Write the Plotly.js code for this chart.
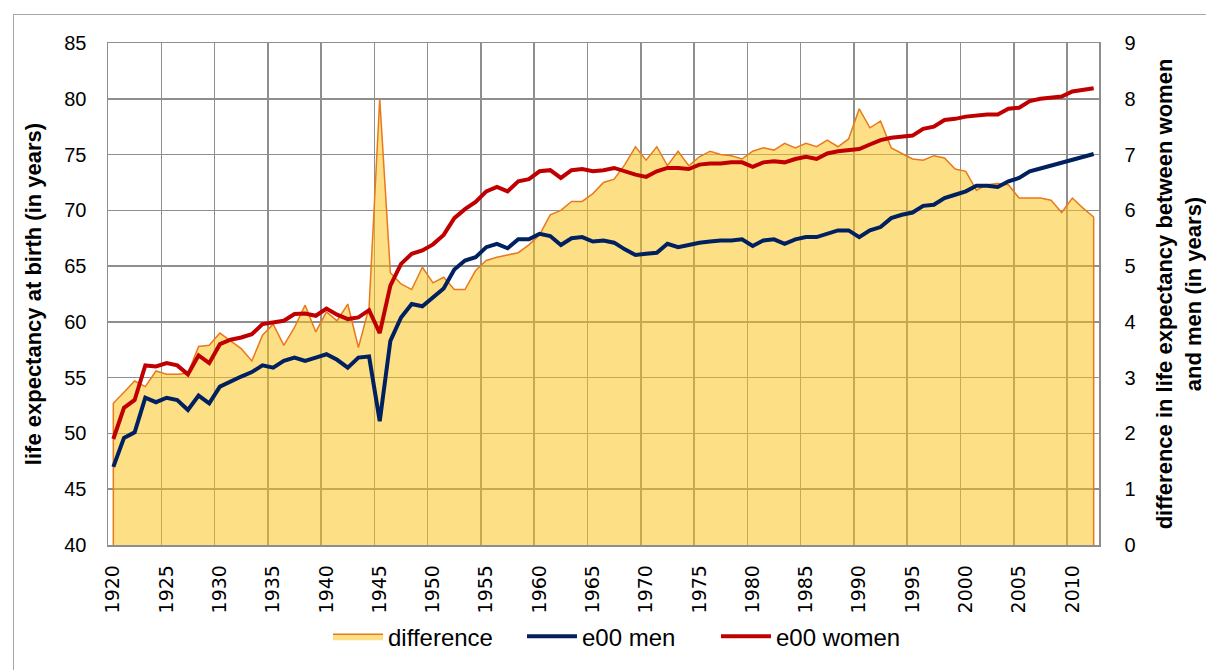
<!DOCTYPE html>
<html>
<head>
<meta charset="utf-8">
<script src="https://cdn.plot.ly/plotly-3.0.1.min.js"></script>
<style>
  html, body { margin: 0; padding: 0; background: #fff; overflow: hidden; }
  #chart { width: 1206px; height: 670px; }
  #frame { position: absolute; left: 13px; top: 14px; width: 1300px; height: 700px;
           border: 1px solid #a6a6a6; pointer-events: none; }
</style>
</head>
<body>
<div id="chart"></div>
<div id="frame"></div>
<script>
// ---- data ----
const years = [];
for (let y = 1920; y <= 2012; y++) years.push(y);

const e00Men = [
  47.0, 49.6, 50.1, 53.2, 52.8, 53.2, 53.0, 52.1, 53.4, 52.7,
  54.2, 54.7, 55.1, 55.5, 56.1, 55.9, 56.5, 56.8, 56.5, 56.8,
  57.1, 56.6, 55.9, 56.8, 56.9, 51.1, 58.3, 60.4, 61.6, 61.4,
  62.2, 63.0, 64.7, 65.5, 65.8, 66.7, 67.0, 66.6, 67.4, 67.4,
  67.9, 67.7, 66.9, 67.5, 67.6, 67.2, 67.3, 67.1, 66.5, 66.0,
  66.1, 66.2, 67.0, 66.7, 66.9, 67.1, 67.2, 67.3, 67.3, 67.4,
  66.8, 67.3, 67.4, 67.0, 67.4, 67.6, 67.6, 67.9, 68.2, 68.2,
  67.6, 68.2, 68.5, 69.3, 69.6, 69.8, 70.4, 70.5, 71.1, 71.4,
  71.7, 72.2, 72.2, 72.1, 72.6, 72.9, 73.5, 73.75, 74.0, 74.3,
  74.5, 74.8, 75.05
];

const e00Women = [
  49.5, 52.3, 53.0, 56.1, 56.0, 56.3, 56.1, 55.3, 57.0, 56.3,
  58.0, 58.4, 58.6, 58.9, 59.8, 59.95, 60.1, 60.7, 60.75, 60.55,
  61.2, 60.65, 60.25, 60.4, 61.05, 59.0, 63.25, 65.2, 66.1, 66.4,
  66.95, 67.8, 69.3, 70.1, 70.75, 71.7, 72.1, 71.7, 72.6, 72.8,
  73.5, 73.6, 72.9, 73.6, 73.7, 73.5, 73.6, 73.8, 73.5, 73.2,
  73.0, 73.5, 73.8, 73.8, 73.7, 74.1, 74.2, 74.2, 74.3, 74.3,
  73.9, 74.3, 74.4, 74.3, 74.6, 74.8, 74.6, 75.1, 75.3, 75.4,
  75.5, 75.9, 76.3, 76.5, 76.6, 76.7, 77.3, 77.5, 78.1, 78.2,
  78.4, 78.5, 78.6, 78.6, 79.1, 79.2, 79.8, 80.0, 80.1, 80.2,
  80.65, 80.8, 80.95
];

// difference in life expectancy between women and men (right axis, years)
const difference = [
  2.54, 2.74, 2.94, 2.84, 3.12, 3.06, 3.06, 3.08, 3.56, 3.58,
  3.80, 3.66, 3.52, 3.30, 3.76, 3.96, 3.58, 3.90, 4.30, 3.82,
  4.18, 4.02, 4.32, 3.54, 4.26, 8.00, 4.88, 4.68, 4.58, 4.98,
  4.70, 4.80, 4.58, 4.58, 4.92, 5.10, 5.16, 5.20, 5.24, 5.38,
  5.56, 5.92, 6.00, 6.16, 6.16, 6.30, 6.50, 6.56, 6.82, 7.14,
  6.90, 7.14, 6.80, 7.06, 6.80, 6.96, 7.06, 7.00, 6.98, 6.92,
  7.06, 7.12, 7.08, 7.20, 7.12, 7.20, 7.14, 7.26, 7.14, 7.28,
  7.82, 7.48, 7.60, 7.12, 7.02, 6.92, 6.90, 6.98, 6.94, 6.74,
  6.70, 6.36, 6.46, 6.48, 6.46, 6.22, 6.22, 6.22, 6.18, 5.96,
  6.22, 6.04, 5.88
];

const tickYears = years.filter(y => y % 5 === 0);
const tickLabels = tickYears.map(String);
const leftTicks = [40, 45, 50, 55, 60, 65, 70, 75, 80, 85];
const rightTicks = [0, 1, 2, 3, 4, 5, 6, 7, 8, 9];

// ---- build ----
const first = years[0], last = years[years.length - 1];
// closed area outline (vertical edges at both ends like the original area chart)
const diffX = [first].concat(years, [last]);
const diffY = [0].concat(difference, [0]);
// gridlines sit between categories, every 5 years
const gridVals = years.filter(y => (y - first) % 5 === 0 && y > first).map(y => y - 0.5);

const traces = [
  {
    name: 'difference', x: diffX, y: diffY, yaxis: 'y', type: 'scatter', mode: 'lines',
    fill: 'tozeroy', fillcolor: 'rgba(252,196,22,0.52)',
    line: { color: '#E8791C', width: 1.5 }, hoverinfo: 'skip'
  },
  {
    name: 'e00 men', x: years, y: e00Men, yaxis: 'y2', type: 'scatter', mode: 'lines',
    line: { color: '#002060', width: 4 }
  },
  {
    name: 'e00 women', x: years, y: e00Women, yaxis: 'y2', type: 'scatter', mode: 'lines',
    line: { color: '#C00000', width: 4 }
  }
];

const gridColor = '#8e8e8e';
const titleFont = { family: 'Liberation Sans, Arial, sans-serif', size: 22, color: '#000', weight: 'bold' };
const layout = {
  width: 1206, height: 670,
  margin: { l: 108, r: 107, t: 43, b: 124 },
  paper_bgcolor: '#ffffff', plot_bgcolor: '#ffffff',
  showlegend: true,
  legend: {
    orientation: 'h', x: 0.222, xanchor: 'left', y: -0.18, yanchor: 'middle',
    font: { family: 'Liberation Sans, Arial, sans-serif', size: 24, color: '#000' },
    itemwidth: 50, tracegroupgap: 0,
    entrywidth: 129, entrywidthmode: 'pixels'
  },
  xaxis: {
    range: [first - 0.5, last + 0.5],
    tickmode: 'array', tickvals: tickYears, ticktext: tickLabels, tickangle: -90,
    tickfont: { family: 'DejaVu Sans, sans-serif', size: 19, color: '#000' },
    ticks: '', ticklabelstandoff: 11,
    showgrid: false, zeroline: false,
    showline: true, linecolor: gridColor, linewidth: 1.5, mirror: true,
    minor: { tickmode: 'array', tickvals: gridVals, showgrid: true, gridcolor: gridColor, gridwidth: 1.5, ticks: '' }
  },
  yaxis: {
    side: 'right', range: [0, 9], tickmode: 'array', tickvals: rightTicks,
    tickfont: { family: 'Liberation Sans, Arial, sans-serif', size: 20, color: '#000' },
    ticks: '', ticklabelstandoff: 20,
    showgrid: true, gridcolor: gridColor, gridwidth: 1.5, zeroline: false,
    showline: true, linecolor: gridColor, linewidth: 1.5,
    title: {
      text: 'difference in life expectancy between women<br>and men (in years)',
      font: titleFont,
      standoff: 22
    }
  },
  yaxis2: {
    overlaying: 'y', side: 'left', range: [40, 85], tickmode: 'array', tickvals: leftTicks,
    tickfont: { family: 'Liberation Sans, Arial, sans-serif', size: 20, color: '#000' },
    ticks: '', ticklabelstandoff: 16,
    showgrid: false, zeroline: false,
    showline: true, linecolor: gridColor, linewidth: 1.5,
    title: {
      text: 'life expectancy at birth (in years)',
      font: titleFont,
      standoff: 16
    }
  }
};

Plotly.newPlot('chart', traces, layout, { displayModeBar: false, staticPlot: true });
</script>
</body>
</html>
